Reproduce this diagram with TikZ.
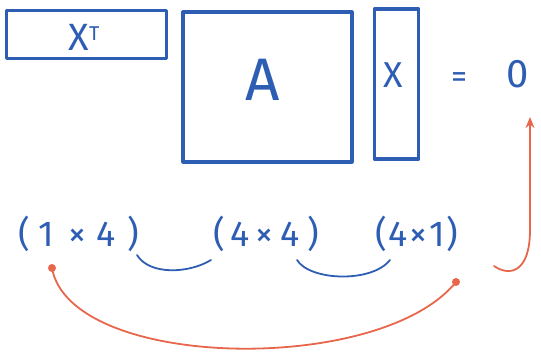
\documentclass[tikz,border=0pt]{standalone}
\usepackage{fontspec}
\setmainfont{Fira Sans}
\usetikzlibrary{arrows.meta}
\definecolor{pen}{HTML}{2E5DB4}
\definecolor{redpen}{HTML}{E8664C}
\tikzset{
  mat/.style={draw=pen, line width=3.2pt, line join=round, inner sep=0pt},
  lbl/.style={text=pen, inner sep=0pt},
  dim/.style={lbl, font=\fontsize{36}{40}\selectfont},
  link/.style={draw=pen, line width=1.8pt, line cap=round},
  redlink/.style={draw=redpen, line width=1.8pt, line cap=round},
  dotmark/.style={circle, fill=redpen, minimum size=8pt, inner sep=0pt}
}
\begin{document}
\begin{tikzpicture}[x=1pt,y=-1pt]
\useasboundingbox (0,0) rectangle (541,354);
% matrices
\node[mat, minimum width=160pt, minimum height=48pt] (xtbox) at (86.5,34.5) {};
\node[lbl, font=\fontsize{38}{40}\selectfont] (xt) at (84,37) {X\raisebox{0.5ex}{\fontsize{20}{22}\selectfont T}};
\node[mat, minimum width=169pt, minimum height=150pt] (abox) at (267.5,87) {};
\node[lbl, font=\fontsize{60}{64}\selectfont] (a) at (263,80) {A};
\node[mat, minimum width=44pt, minimum height=150pt] (xbox) at (396.5,84) {};
\node[lbl, font=\fontsize{36}{40}\selectfont] (x) at (393,75) {X};
\node[lbl, font=\fontsize{32}{36}\selectfont] (eq) at (459,80) {=};
\node[lbl, font=\fontsize{40}{44}\selectfont] (zero) at (518,74) {0};
% dimensions
\node[dim] (d1) at (79,234) {(\hspace{8pt}1\hspace{14pt}×\hspace{10pt}4\hspace{12pt})};
\node[dim] (d2) at (266,234) {(\hspace{6pt}4\hspace{6pt}×\hspace{6pt}4\hspace{8pt})};
\node[dim] (d3) at (417,234) {(\hspace{1pt}4\hspace{2pt}×\hspace{2pt}1\hspace{2pt})};
% blue links
\coordinate (b1s) at (137,255);
\coordinate (b1e) at (211,260);
\coordinate (b2s) at (297,260);
\coordinate (b2e) at (390,260);
\draw[link] (b1s) .. controls (150,276) and (190,273) .. (b1e);
\draw[link] (b2s) .. controls (310,281) and (372,283) .. (b2e);
% red links
\node[dotmark] (r1) at (52,268) {};
\node[dotmark] (r2) at (456,282) {};
\draw[redlink] (r1.center) .. controls (70,370) and (380,376) .. (r2.center);
\coordinate (rs) at (494,266);
\coordinate (rt) at (530,117);
\draw[redlink, -{Stealth[length=11pt,width=9pt]}] (rs) .. controls (510,277) and (530,272) .. (530,230) -- (rt);
\end{tikzpicture}
\end{document}
